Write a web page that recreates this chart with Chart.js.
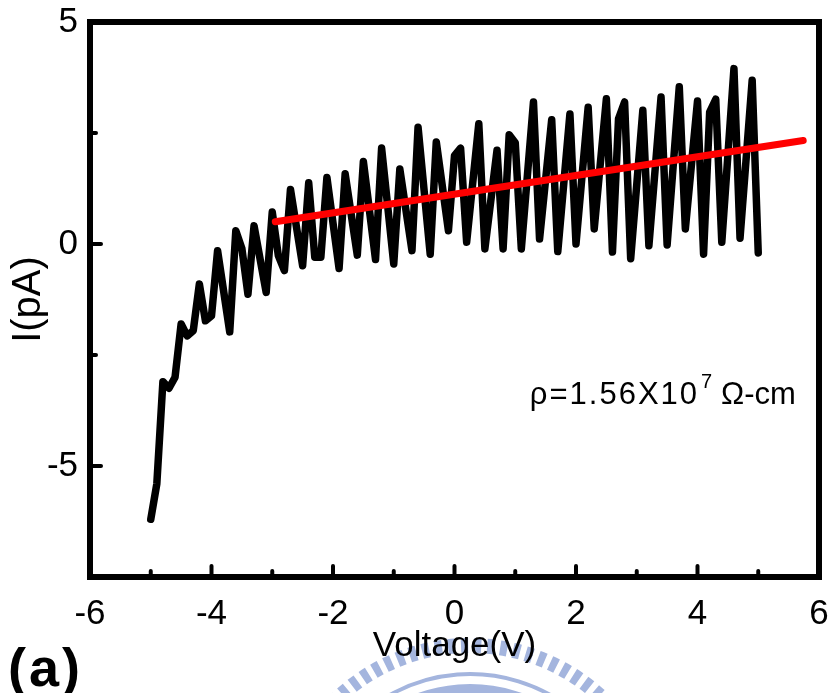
<!DOCTYPE html>
<html lang="en">
<head>
  <meta charset="UTF-8">
  <title>I-V</title>
  <script src="https://cdn.jsdelivr.net/npm/chart.js@4.4.1/dist/chart.umd.min.js"></script>
  <style>
    html, body { margin: 0; padding: 0; background: #fff; }
    #wrap { width: 831px; height: 693px; position: relative; }
  </style>
</head>
<body>
  <div id="wrap"><canvas id="ivChart"></canvas></div>

<script>
  // measured I-V sweep (turning points of the trace)
  var voltage = [-5.0, -4.9, -4.8, -4.7, -4.6, -4.5, -4.4, -4.3, -4.2, -4.1, -4.0, -3.9, -3.7, -3.6, -3.5, -3.4, -3.3, -3.1,
                 -3.0, -2.9, -2.8, -2.7, -2.5, -2.4, -2.3, -2.2, -2.1, -1.9, -1.8, -1.6, -1.5, -1.3, -1.2, -1.0, -0.9,
                 -0.7, -0.6, -0.4, -0.3, -0.1, 0.0, 0.1, 0.2, 0.4, 0.5, 0.7, 0.8, 0.9, 1.0, 1.1, 1.3, 1.4, 1.6, 1.7,
                 1.9, 2.0, 2.2, 2.3, 2.5, 2.6, 2.7, 2.8, 2.9, 3.1, 3.2, 3.4, 3.5, 3.7, 3.8, 4.0, 4.1, 4.2, 4.3, 4.4,
                 4.6, 4.7, 4.9, 5.0];
  var current = [-6.2, -5.4, -3.1, -3.25, -3.0, -1.8, -2.07, -1.95, -0.9, -1.73, -1.62, -0.15, -1.98, 0.3, -0.1, -1.13, 0.41, -1.09,
                 0.72, -0.26, -0.6, 1.23, -0.49, 1.38, -0.3, -0.3, 1.5, -0.55, 1.58, -0.25, 1.86, -0.35, 2.16, -0.45, 1.69,
                 -0.15, 2.63, -0.23, 2.3, 0.3, 1.99, 2.16, 0.04, 2.71, -0.11, 2.11, -0.11, 2.46, 2.28, -0.11, 3.2, 0.11, 2.8, -0.17,
                 2.93, 0.0, 3.08, 0.34, 3.27, -0.18, 2.82, 3.2, -0.33, 3.01, -0.04, 3.31, -0.02, 3.54, 0.34, 3.22, -0.23, 2.97, 3.26, 0.04,
                 3.95, 0.13, 3.69, -0.2];

  // linear fit used for the resistivity
  var fitVoltage = [-2.95, 5.74];
  var fitCurrent = [0.50, 2.33];

  var xTicks = [-6, -4, -2, 0, 2, 4, 6];
  var xMinorTicks = [-5, -3, -1, 1, 3, 5];
  var yTicks = [-5, 0, 5];
  var yMinorTicks = [-2.5, 2.5];

  var FONT = "'Liberation Sans', Arial, sans-serif";

  function toPoints(xs, ys) {
    return xs.map(function (x, i) { return { x: x, y: ys[i] }; });
  }

  // light blue seal printed behind the bottom of the figure
  var sealPlugin = {
    id: 'seal',
    beforeDraw: function (chart) {
      var ctx = chart.ctx;
      var cx = 470, cy = 838;
      ctx.save();
      ctx.fillStyle = 'rgb(164,181,222)';
      ctx.strokeStyle = 'rgb(164,181,222)';
      // striped outer ring
      var step = 0.068;
      for (var a = -Math.PI + 0.3; a < -0.3; a += step) {
        ctx.beginPath();
        ctx.arc(cx, cy, 200, a, a + step * 0.55);
        ctx.arc(cx, cy, 185, a + step * 0.55, a, true);
        ctx.closePath();
        ctx.fill();
      }
      // thin ring
      ctx.lineWidth = 4;
      ctx.beginPath();
      ctx.arc(cx, cy, 164, -Math.PI + 0.3, -0.3);
      ctx.stroke();
      // inner band
      ctx.lineWidth = 10;
      ctx.beginPath();
      ctx.arc(cx, cy, 149, -Math.PI + 0.3, -0.3);
      ctx.stroke();
      ctx.restore();
    }
  };

  // frame, inward ticks and the text labels
  var framePlugin = {
    id: 'frame',
    afterDatasetsDraw: function (chart) {
      var ctx = chart.ctx;
      var area = chart.chartArea;
      var xs = chart.scales.x, ys = chart.scales.y;
      ctx.save();
      ctx.strokeStyle = '#000';
      ctx.lineCap = 'round';
      ctx.lineWidth = 4;
      xTicks.forEach(function (v) {
        var px = xs.getPixelForValue(v);
        ctx.beginPath(); ctx.moveTo(px, area.bottom); ctx.lineTo(px, area.bottom - 11); ctx.stroke();
      });
      xMinorTicks.forEach(function (v) {
        var px = xs.getPixelForValue(v);
        ctx.beginPath(); ctx.moveTo(px, area.bottom); ctx.lineTo(px, area.bottom - 6); ctx.stroke();
      });
      yTicks.forEach(function (v) {
        var py = ys.getPixelForValue(v);
        ctx.beginPath(); ctx.moveTo(area.left, py); ctx.lineTo(area.left + 11, py); ctx.stroke();
      });
      yMinorTicks.forEach(function (v) {
        var py = ys.getPixelForValue(v);
        ctx.beginPath(); ctx.moveTo(area.left, py); ctx.lineTo(area.left + 6, py); ctx.stroke();
      });
      ctx.lineCap = 'butt';
      ctx.lineWidth = 6;
      ctx.strokeRect(area.left, area.top, area.right - area.left, area.bottom - area.top);

      // resistivity label
      ctx.fillStyle = '#000';
      ctx.textBaseline = 'alphabetic';
      ctx.textAlign = 'left';
      var tx = xs.getPixelForValue(1.24), ty = ys.getPixelForValue(-3.6);
      ctx.font = '31px ' + FONT;
      ctx.letterSpacing = '2px';
      var main = '\u03c1=1.56X10';
      ctx.fillText(main, tx, ty);
      var w = ctx.measureText(main).width;
      ctx.letterSpacing = '0px';
      ctx.font = '20px ' + FONT;
      ctx.fillText('7', tx + w + 2, ty - 16);
      ctx.font = '31px ' + FONT;
      ctx.fillText('\u03a9-cm', tx + w + 22, ty);

      // panel letter
      ctx.font = 'bold 54px ' + FONT;
      ctx.letterSpacing = '3px';
      ctx.fillText('(a)', 8, 686);
      ctx.restore();
    }
  };

  var ctxIV = document.getElementById('ivChart').getContext('2d');

  var ivChart = new Chart(ctxIV, {
    type: 'scatter',
    data: {
      datasets: [
        {
          label: 'fit',
          data: toPoints(fitVoltage, fitCurrent),
          showLine: true,
          borderColor: '#ff0000',
          borderWidth: 7,
          borderCapStyle: 'round',
          pointRadius: 0,
          order: 1
        },
        {
          label: 'I-V',
          data: toPoints(voltage, current),
          showLine: true,
          borderColor: '#000000',
          borderWidth: 7.5,
          borderCapStyle: 'round',
          borderJoinStyle: 'round',
          pointRadius: 0,
          order: 2
        }
      ]
    },
    options: {
      responsive: true,
      maintainAspectRatio: false,
      animation: false,
      events: [],
      layout: { padding: { top: 22, right: 12, left: 0, bottom: 0 } },
      plugins: {
        legend: { display: false },
        tooltip: { enabled: false }
      },
      scales: {
        x: {
          type: 'linear',
          min: -6,
          max: 6,
          grid: { display: false, drawTicks: false },
          border: { display: false },
          afterBuildTicks: function (scale) {
            scale.ticks = xTicks.map(function (v) { return { value: v }; });
          },
          afterFit: function (scale) {
            scale.height = 116;
            scale.paddingLeft = 0;
            scale.paddingRight = 0;
          },
          ticks: {
            color: '#000',
            padding: 16,
            maxRotation: 0,
            font: { family: FONT, size: 35 }
          },
          title: {
            display: true,
            text: 'Voltage(V)',
            color: '#000',
            font: { family: FONT, size: 35 },
            padding: { top: 0, bottom: 26 }
          }
        },
        y: {
          type: 'linear',
          min: -7.5,
          max: 5,
          grid: { display: false, drawTicks: false },
          border: { display: false },
          afterBuildTicks: function (scale) {
            scale.ticks = yTicks.map(function (v) { return { value: v }; });
          },
          afterFit: function (scale) {
            scale.width = 90;
            scale.paddingTop = 0;
            scale.paddingBottom = 0;
          },
          ticks: {
            color: '#000',
            padding: 12,
            font: { family: FONT, size: 35 }
          },
          title: {
            display: true,
            text: 'I(pA)',
            color: '#000',
            font: { family: FONT, size: 40 },
            padding: { top: 5, bottom: 0 }
          }
        }
      }
    },
    plugins: [sealPlugin, framePlugin]
  });
</script>
</body>
</html>
